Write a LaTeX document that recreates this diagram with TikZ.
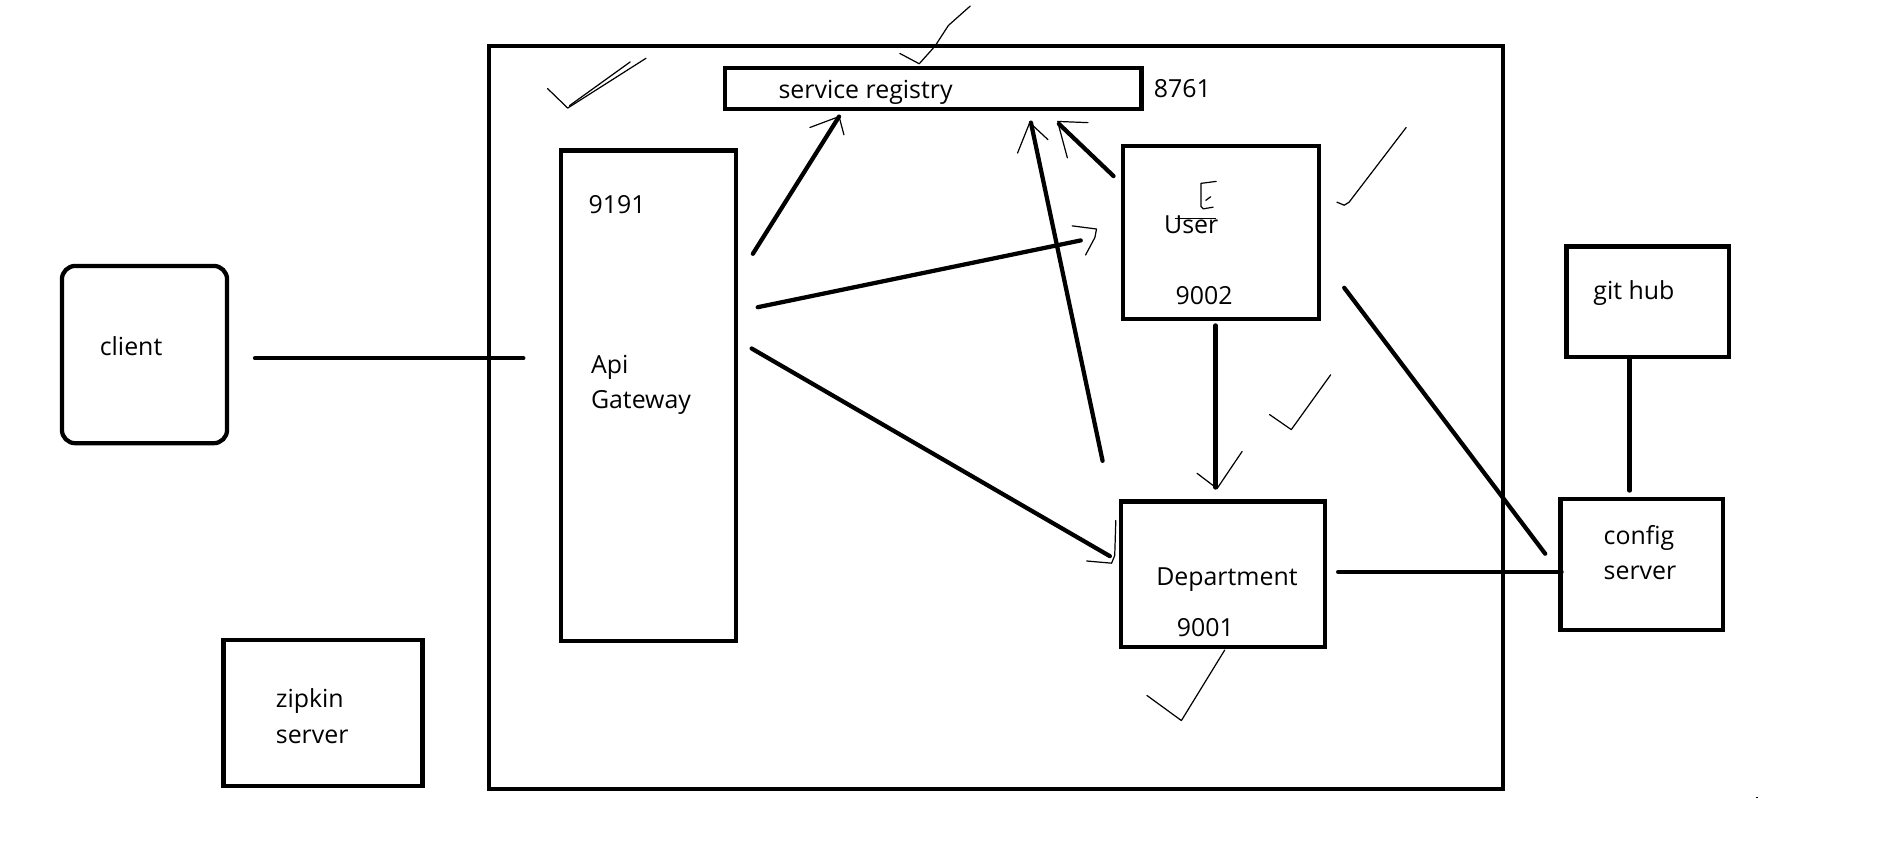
\documentclass[tikz,border=0pt]{standalone}
\usepackage{fontspec}
\setmainfont{Open Sans}
\begin{document}
\begin{tikzpicture}[x=1pt,y=-1pt,
  box/.style={draw=black,line width=3.5pt,inner sep=0pt,outer sep=0pt},
  conn/.style={line width=3.5pt,line cap=round},
  scrib/.style={line width=1pt,line cap=round,line join=round},
  lbl/.style={anchor=base west,inner sep=0pt,font=\fontsize{20.5}{24}\selectfont}]
\useasboundingbox (0,0) rectangle (1568,711);
\fill[white] (0,0) rectangle (1568,711);
% boxes
\node[box,minimum width=835pt,minimum height=612pt] (outer) at (820.5,344) {};
\node[box,minimum width=343pt,minimum height=34pt] (sr) at (768.5,73) {};
\node[box,minimum width=144pt,minimum height=404pt] (api) at (534,326) {};
\node[box,minimum width=161pt,minimum height=143pt] (user) at (1005.5,191.5) {};
\node[box,minimum width=168pt,minimum height=120pt] (dept) at (1007,473) {};
\node[box,minimum width=134pt,minimum height=91pt] (gh) at (1357,248.5) {};
\node[box,minimum width=134pt,minimum height=108pt] (cfg) at (1352,465) {};
\node[box,minimum width=164pt,minimum height=120pt] (zip) at (266,587) {};
\node[box,rounded corners=11pt,minimum width=136pt,minimum height=146pt] (client) at (119,292) {};
% labels
\node[lbl] (tclient) at (82,292.5) {client};
\node[lbl] (tsr) at (641,81) {service registry};
\node[lbl] (t8761) at (950,80) {8761};
\node[lbl] (t9191) at (484.5,175.5) {9191};
\node[lbl] (tapi) at (486.5,307.5) {Api};
\node[lbl] (tgw) at (486.5,336.5) {Gateway};
\node[lbl] (tuser) at (958.5,192) {User};
\node[lbl] (t9002) at (968,251) {9002};
\node[lbl] (tdept) at (952,482.5) {Department};
\node[lbl] (t9001) at (969,524) {9001};
\node[lbl] (tgh) at (1312,247) {git hub};
\node[lbl] (tcfg1) at (1320.5,448.5) {config};
\node[lbl] (tcfg2) at (1320.5,477.5) {server};
\node[lbl] (tzip1) at (227,583) {zipkin};
\node[lbl] (tzip2) at (227,612) {server};
% connector end points
\coordinate (cl1) at (210,295);
\coordinate (cl2) at (431,295);
\coordinate (as1) at (620,209);
\coordinate (as2) at (691,96);
\coordinate (au1) at (624,253);
\coordinate (au2) at (890,198);
\coordinate (ad1) at (619,287);
\coordinate (ad2) at (914,458);
\coordinate (ds1) at (908,379.5);
\coordinate (ds2) at (849,101);
\coordinate (us1) at (917,145);
\coordinate (us2) at (872,102);
\coordinate (ud1) at (1001,268);
\coordinate (ud2) at (1001,401.5);
\coordinate (uc1) at (1107,237);
\coordinate (uc2) at (1272.5,456);
\coordinate (dc1) at (1102,471);
\coordinate (dc2) at (1286,471);
\coordinate (gc1) at (1342,296);
\coordinate (gc2) at (1342,404);
% connectors
\draw[conn] (cl1) -- (cl2);
\draw[conn] (as1) -- (as2);
\draw[conn] (au1) -- (au2);
\draw[conn] (ad1) -- (ad2);
\draw[conn] (ds1) -- (ds2);
\draw[conn] (us1) -- (us2);
\draw[conn] (ud1) -- (ud2);
\draw[conn] (uc1) -- (uc2);
\draw[conn] (dc1) -- (dc2);
\draw[conn] (gc1) -- (gc2);
% hand-drawn arrow heads
\draw[scrib] (667,105) -- (as2) -- (695,111);
\draw[scrib] (883,186) -- (903,188.6) -- (901.7,195.5) -- (894,210);
\draw[scrib] (918.9,428.6) -- (918,457.5) -- (915.4,463.8) -- (895,462);
\draw[scrib] (838,126) -- (848,101) -- (863,115);
\draw[scrib] (896,101) -- (871,100);
\draw[scrib] (872,104) -- (879,130);
% check marks
\draw[scrib] (451,73) -- (467.5,89) -- (532,48);
\draw[scrib] (469,87) -- (519,51);
\draw[scrib] (741,44) -- (757,52.5) -- (770,38) -- (781,21) -- (799,5);
\draw[scrib] (1101,166.5) -- (1107,169) -- (1111,166.5) -- (1158,105);
\draw[scrib] (1045.5,341.4) -- (1063.4,353.8) -- (1095.8,308.7);
\draw[scrib] (985.8,389.8) -- (1002.3,402.3) -- (1022.9,371.8);
\draw[scrib] (944.5,572.7) -- (972.9,593.4) -- (1008.6,535.3);
% scribble near User
\draw[scrib] (1001.6,149.4) -- (989,151) -- (989,170) -- (991,172) -- (999,170.6);
\draw[scrib] (993,165) -- (997,162);
\draw[scrib] (968,180) -- (1001,180);
% stray dot
\fill (1446.5,656) rectangle (1447.5,657);
\end{tikzpicture}
\end{document}
